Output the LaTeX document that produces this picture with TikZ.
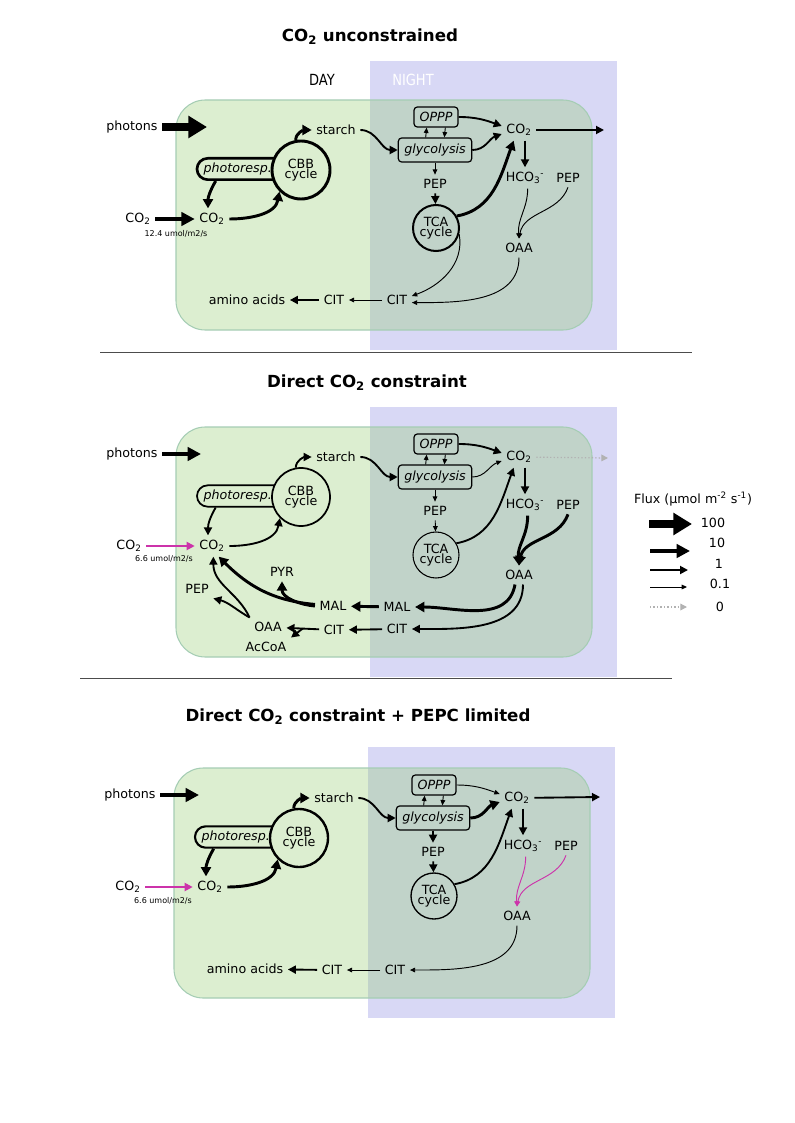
\documentclass[tikz,border=0pt]{standalone}
\usepackage{fontspec}
\setmainfont{DejaVu Sans}
\newfontfamily\condfont[FakeStretch=0.85]{DejaVu Sans}
\usetikzlibrary{arrows.meta,calc}
\definecolor{nightc}{RGB}{216,216,245}
\definecolor{dayc}{RGB}{140,200,100}
\definecolor{daybg}{RGB}{220,238,208}
\definecolor{dayline}{RGB}{165,205,180}
\definecolor{mag}{RGB}{204,51,170}
\tikzset{
  f100/.style={line width=5.5pt, -{Triangle[length=14pt,width=16pt]}},
  f10/.style={line width=3.2pt, -{Triangle[length=10pt,width=10pt]}},
  f3/.style={line width=2.2pt, -{Triangle[length=7pt,width=7.5pt]}},
  f1/.style={line width=1.4pt, -{Triangle[length=6pt,width=6pt]}},
  f01/.style={line width=0.7pt, -{Triangle[length=4pt,width=3.5pt]}},
  f0/.style={line width=0.9pt, gray!60, dash pattern=on 1pt off 1.6pt, -{Triangle[length=5pt,width=5pt]}},
  cyc/.style={draw, circle, inner sep=0pt, align=center, font=\fontsize{9.5}{8}\selectfont},
  enz/.style={draw, rounded corners=2.5pt, line width=0.9pt, inner sep=2pt, font=\fontsize{9.5}{9}\selectfont\itshape},
  small/.style={font=\fontsize{6}{7}\selectfont},
  ttl/.style={font=\fontsize{12.5}{14}\selectfont\bfseries},
  cell/.style={fill=dayc, fill opacity=0.3, draw=dayline, line width=0.8pt, rounded corners=22pt}
}
\begin{document}
\begin{tikzpicture}[x=0.75pt,y=-0.75pt,font=\fontsize{9.5}{9}\selectfont]
\useasboundingbox (0,0) rectangle (794,1123);

\node (t1) [ttl] at (370,37) {CO\textsubscript{2} unconstrained};
\node (t2) [ttl] at (367,383) {Direct CO\textsubscript{2} constraint};
\node (t3) [ttl] at (358,717) {Direct CO\textsubscript{2} constraint + PEPC limited};
\draw[line width=0.7pt, black!70] (100,352) -- (692,352);
\draw[line width=0.7pt, black!70] (80,678) -- (672,678);

% CO2 unconstrained
\fill[nightc] (370,61) rectangle (617,350);
\filldraw[cell] (176,100) rectangle (592,330);
\node (day) [font=\fontsize{11.5}{12}\condfont] at (322,80) {DAY};
\node (night) [white, font=\fontsize{11.5}{12}\condfont] at (413,80) {NIGHT};
\node (ph) at (132,127) {photons};
\coordinate (phend) at (207,127);
\node (pr) [enz, line width=2pt, rounded corners=8pt, minimum width=66pt, minimum height=16pt, text width=56pt, align=left] at (241,169) {photoresp.};
\node (cbb) [cyc, fill=daybg, minimum size=43.5pt, line width=2.2pt] at (301,170) {CBB\\cycle};
\node (starch) at (336,130) {starch};
\node (co2e) at (138,219) {CO\textsubscript{2}};
\node (co2i) at (212,219) {CO\textsubscript{2}};
\node (rate) [small] at (176,234) {12.4 umol/m2/s};
\node (oppp) [enz, minimum width=33pt, minimum height=15pt] at (436,117) {OPPP};
\node (glyc) [enz, minimum width=55pt, minimum height=18pt] at (435,150) {glycolysis};
\node (co2n) at (519,130) {CO\textsubscript{2}};
\coordinate (co2out) at (604,130);
\node (hco) at (525,178) {HCO\textsubscript{3}\textsuperscript{-}};
\node (pepn) at (568,178) {PEP};
\node (oaa) at (519,248) {OAA};
\node (pepg) at (435,184) {PEP};
\node (tca) [cyc, minimum size=34.5pt, line width=1.5pt] at (436,228) {TCA\\cycle};
\node (citn) at (397,300) {CIT};
\node (citd) at (334,300) {CIT};
\node (amino) at (247,300) {amino acids};
\draw[f100] (ph) -- (phend);
\draw[f10] (co2e) -- (co2i);
\draw[f3] (co2i) to[out=0,in=-100] (cbb.225);
\draw[f3] ([xshift=-19pt]pr.south) to[out=240,in=90] ([xshift=-3pt]co2i.north);
\draw[f3] (cbb.100) to[out=90,in=180] (starch);
\draw[f1] (starch) to[out=0,in=180] (glyc);
\draw[f01] ([xshift=-7pt]glyc.north) -- ([xshift=-7pt]oppp.south);
\draw[f01] ([xshift=7pt]oppp.south) -- ([xshift=7pt]glyc.north);
\draw[f1] (oppp) to[out=0,in=160] ([yshift=3pt]co2n.west);
\draw[f1] (glyc) to[out=0,in=200] ([yshift=-3pt]co2n.west);
\draw[f1] (co2n) -- (co2out);
\draw[f1] (co2n.south -| hco.north) -- (hco.north);
\draw[f01] (glyc) -- (pepg);
\draw[f1] (pepg) -- (tca);
\draw[f3] (tca.30) to[out=10,in=250] ([xshift=-4pt]co2n.south);
\draw[f01] (tca.-15) to[out=-80,in=20] (citn.15);
\draw[f01] (oaa.south) to[out=-90,in=0] (citn.-10);
\draw[f01] ([xshift=2pt]hco.south) to[out=-90,in=95] (oaa.north);
\draw[f01] (pepn.south) to[out=-110,in=80] (oaa.north);
\draw[f01] (citn) -- (citd);
\draw[f1] (citd) -- (amino);

% direct CO2 constraint
\begin{scope}[shift={(0,327)}]
\fill[nightc] (370,80) rectangle (617,350);
\filldraw[cell] (176,100) rectangle (592,330);
\node (ph) at (132,127) {photons};
\coordinate (phend) at (201,127);
\node (pr) [enz, line width=1.3pt, rounded corners=8pt, minimum width=66pt, minimum height=16pt, text width=56pt, align=left] at (241,169) {photoresp.};
\node (cbb) [cyc, fill=daybg, minimum size=43.5pt, line width=1.3pt] at (301,170) {CBB\\cycle};
\node (starch) at (336,130) {starch};
\node (co2e) at (129,219) {CO\textsubscript{2}};
\node (co2i) at (212,219) {CO\textsubscript{2}};
\node (rate) [small] at (164,232) {6.6 umol/m2/s};
\node (oppp) [enz, minimum width=33pt, minimum height=15pt] at (436,117) {OPPP};
\node (glyc) [enz, minimum width=55pt, minimum height=18pt] at (435,150) {glycolysis};
\node (co2n) at (519,130) {CO\textsubscript{2}};
\coordinate (co2out) at (608,131);
\node (hco) at (525,178) {HCO\textsubscript{3}\textsuperscript{-}};
\node (pepn) at (568,178) {PEP};
\node (oaa) at (519,248) {OAA};
\node (pepg) at (435,184) {PEP};
\node (tca) [cyc, minimum size=34.5pt, line width=0.8pt] at (436,228) {TCA\\cycle};
\node (maln) at (397,280) {MAL};
\node (citn) at (397,302) {CIT};
\node (mald) at (333,279) {MAL};
\node (citd) at (334,303) {CIT};
\node (pyr) at (282,245) {PYR};
\node (pep2) at (197,262) {PEP};
\node (oaa2) at (268,300) {OAA};
\node (acc) at (266,320) {AcCoA};
\draw[f10] (ph) -- (phend);
\draw[f1, mag] (co2e) -- (co2i);
\draw[f1] (co2i) to[out=0,in=-100] (cbb.225);
\draw[f1] ([xshift=-19pt]pr.south) to[out=240,in=90] ([xshift=-3pt]co2i.north);
\draw[f1] (cbb.100) to[out=90,in=180] (starch);
\draw[f1] (starch) to[out=0,in=180] (glyc);
\draw[f01] ([xshift=-7pt]glyc.north) -- ([xshift=-7pt]oppp.south);
\draw[f01] ([xshift=7pt]oppp.south) -- ([xshift=7pt]glyc.north);
\draw[f1] (oppp) to[out=0,in=160] ([yshift=3pt]co2n.west);
\draw[f01] (glyc) to[out=0,in=200] ([yshift=-3pt]co2n.west);
\draw[f0] (co2n) -- (co2out);
\draw[f1] (co2n.south -| hco.north) -- (hco.north);
\draw[f01] (glyc) -- (pepg);
\draw[f01] (pepg) -- (tca);
\draw[f1] (tca.30) to[out=10,in=250] ([xshift=-4pt]co2n.south);
\draw[f3] ([xshift=2pt]hco.south) to[out=-90,in=95] (oaa.north);
\draw[f3] (pepn.south) to[out=-110,in=80] (oaa.north);
\draw[f3] ([xshift=-3pt]oaa.south) to[out=-100,in=0] (maln);
\draw[f1] ([xshift=3pt]oaa.south) to[out=-90,in=0] (citn);
\draw[f3] (maln) -- (mald);
\draw[f1] (citn) -- (citd);
\draw[f3] (mald) to[out=175,in=-45] ([xshift=5pt]co2i.south);
\draw[f3] (mald.west) to[out=175,in=-90] (pyr);
\draw[f1] (oaa2.north west) to[out=115,in=-90] ([xshift=1pt]co2i.south);
\draw[f1] (oaa2.north west) to[out=150,in=-15] (pep2.south east);
\draw[f1] (citd) -- (oaa2);
\draw[f1] ($(citd.west)!0.5!(oaa2.east)$) -- (acc.north east);
\end{scope}

% direct CO2 constraint + PEPC limited
\begin{scope}[shift={(-2,668)}]
\fill[nightc] (370,79) rectangle (617,350);
\filldraw[cell] (176,100) rectangle (592,330);
\node (ph) at (132,127) {photons};
\coordinate (phend) at (201,127);
\node (pr) [enz, line width=1.6pt, rounded corners=8pt, minimum width=66pt, minimum height=16pt, text width=56pt, align=left] at (241,169) {photoresp.};
\node (cbb) [cyc, fill=daybg, minimum size=43.5pt, line width=1.8pt] at (301,170) {CBB\\cycle};
\node (starch) at (336,130) {starch};
\node (co2e) at (130,219) {CO\textsubscript{2}};
\node (co2i) at (212,219) {CO\textsubscript{2}};
\node (rate) [small] at (165,233) {6.6 umol/m2/s};
\node (oppp) [enz, minimum width=33pt, minimum height=15pt] at (436,117) {OPPP};
\node (glyc) [enz, minimum width=55pt, minimum height=18pt] at (435,150) {glycolysis};
\node (co2n) at (519,130) {CO\textsubscript{2}};
\coordinate (co2out) at (602,129);
\node (hco) at (525,178) {HCO\textsubscript{3}\textsuperscript{-}};
\node (pepn) at (568,178) {PEP};
\node (oaa) at (519,248) {OAA};
\node (pepg) at (435,184) {PEP};
\node (tca) [cyc, minimum size=34.5pt, line width=1pt] at (436,228) {TCA\\cycle};
\node (citn) at (397,302) {CIT};
\node (citd) at (334,302) {CIT};
\node (amino) at (247,301) {amino acids};
\draw[f10] (ph) -- (phend);
\draw[f1, mag] (co2e) -- (co2i);
\draw[f3] (co2i) to[out=0,in=-100] (cbb.225);
\draw[f3] ([xshift=-19pt]pr.south) to[out=240,in=90] ([xshift=-3pt]co2i.north);
\draw[f3] (cbb.100) to[out=90,in=180] (starch);
\draw[f1] (starch) to[out=0,in=180] (glyc);
\draw[f01] ([xshift=-7pt]glyc.north) -- ([xshift=-7pt]oppp.south);
\draw[f01] ([xshift=7pt]oppp.south) -- ([xshift=7pt]glyc.north);
\draw[f01] (oppp) to[out=0,in=160] ([yshift=3pt]co2n.west);
\draw[f3] (glyc) to[out=0,in=200] ([yshift=-3pt]co2n.west);
\draw[f1] (co2n) -- (co2out);
\draw[f1] (co2n.south -| hco.north) -- (hco.north);
\draw[f1] (glyc) -- (pepg);
\draw[f1] (pepg) -- (tca);
\draw[f1] (tca.30) to[out=10,in=250] ([xshift=-4pt]co2n.south);
\draw[f01, mag] ([xshift=2pt]hco.south) to[out=-90,in=95] (oaa.north);
\draw[f01, mag] (pepn.south) to[out=-110,in=80] (oaa.north);
\draw[f01] (oaa.south) to[out=-90,in=0] (citn);
\draw[f01] (citn) -- (citd);
\draw[f1] (citd) -- (amino);
\end{scope}

% legend
\node (flux) at (693,499) {Flux (µmol m\textsuperscript{-2} s\textsuperscript{-1})};
\node (v100) at (713,523) {100};
\node (v10) at (717,543) {10};
\node (v1) at (719,564) {1};
\node (v01) at (720,584) {0.1};
\node (v0) at (720,607) {0};
\coordinate (s100) at (649,524); \coordinate (e100) at (692,524);
\coordinate (s10) at (650,551); \coordinate (e10) at (690,551);
\coordinate (s1) at (650,570); \coordinate (e1) at (688,570);
\coordinate (s01) at (650,587); \coordinate (e01) at (687,587);
\coordinate (s0) at (650,607); \coordinate (e0) at (687,607);
\draw[f100] (s100) -- (e100);
\draw[f10] (s10) -- (e10);
\draw[f1] (s1) -- (e1);
\draw[f01] (s01) -- (e01);
\draw[f0] (s0) -- (e0);
\end{tikzpicture}
\end{document}
